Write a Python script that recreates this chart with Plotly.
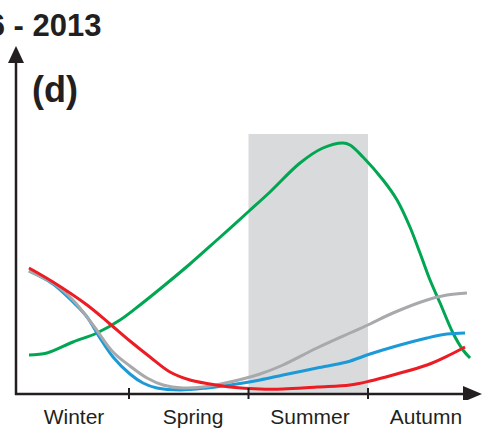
import plotly.graph_objects as go

# ---------------- data ----------------
seasons = ["Winter", "Spring", "Summer", "Autumn"]
season_label_pos = [0.54, 1.536, 2.515, 3.485]
season_bounds = [1, 2, 3]
shade_span = [2, 3]          # summer shading
shade_top = 259

green_x = [0.163, 0.314, 0.531, 0.732, 0.925, 1.092, 1.259, 1.510, 1.736, 1.996, 2.180, 2.431, 2.623,
           2.791, 2.849, 2.958, 3.126, 3.243, 3.351, 3.435, 3.519, 3.603, 3.711, 3.795, 3.854]
green_y = [38, 40, 51, 60, 73, 88, 104, 129, 153, 181, 201, 230, 245,
           250, 248, 236, 213, 193, 166, 140, 113, 90, 60, 43, 35]

red_x = [0.163, 0.364, 0.649, 0.841, 1.008, 1.176, 1.343, 1.510, 1.678, 1.845, 2.096, 2.289, 2.573,
         2.849, 3.017, 3.209, 3.494, 3.682, 3.812]
red_y = [125, 111, 88, 69, 52, 36, 21, 13, 9, 6, 4, 4, 6, 8, 12, 18, 28, 38, 46]

blue_x = [0.163, 0.364, 0.531, 0.649, 0.757, 0.866, 1.008, 1.117, 1.234, 1.427, 1.653, 1.845, 2.096,
          2.289, 2.573, 2.824, 3.017, 3.209, 3.494, 3.661, 3.812]
blue_y = [122, 109, 91, 76, 55, 36, 19, 10, 5, 3, 5, 8, 13, 18, 25, 31, 39, 46, 55, 59, 60]

gray_x = [0.163, 0.364, 0.531, 0.699, 0.866, 1.008, 1.151, 1.285, 1.452, 1.619, 1.845, 2.096, 2.289,
          2.573, 2.849, 3.017, 3.209, 3.494, 3.661, 3.828]
gray_y = [122, 110, 93, 68, 41, 27, 15, 8, 5, 6, 11, 19, 28, 45, 60, 69, 80, 93, 98, 100]

title_text = "2006 - 2013"
panel_text = "(d)"

# ---------------- styling / geometry helpers ----------------
W, H = 482, 430
BOTTOM = 30
PLOT_H = H - BOTTOM


def X(px):
    return (px - 9.5) / 119.5


def Y(py):
    return 393 - py


INK = "#231f20"
FONT = "Liberation Sans, Arial, sans-serif"

fig = go.Figure()

series = [
    (green_x, green_y, "#00a651"),
    (blue_x, blue_y, "#1b9ad7"),
    (gray_x, gray_y, "#a7a9ac"),
    (red_x, red_y, "#ed1c24"),
]
for xs, ys, col in series:
    fig.add_trace(go.Scatter(x=xs, y=ys, mode="lines",
                             line=dict(color=col, width=3, shape="spline", smoothing=1.0),
                             hoverinfo="skip", showlegend=False))

shapes = []
# summer shading
shapes.append(dict(type="rect", xref="x", yref="y", x0=shade_span[0], x1=shade_span[1],
                   y0=Y(394), y1=shade_top, fillcolor="#d9dadc", line=dict(width=0), layer="below"))
# axes
shapes.append(dict(type="line", xref="x", yref="y", x0=X(16), x1=X(16), y0=Y(395), y1=Y(58),
                   line=dict(color=INK, width=2.5)))
shapes.append(dict(type="line", xref="x", yref="y", x0=X(15), x1=X(468), y0=Y(394), y1=Y(394),
                   line=dict(color=INK, width=2.5)))
# arrowheads
shapes.append(dict(type="path", xref="x", yref="y",
                   path=f"M {X(16)},{Y(46)} L {X(8)},{Y(63)} L {X(24)},{Y(63)} Z",
                   fillcolor=INK, line=dict(width=0)))
shapes.append(dict(type="path", xref="x", yref="y",
                   path=f"M {X(482)},{Y(394)} L {X(463)},{Y(386)} L {X(463)},{Y(402)} Z",
                   fillcolor=INK, line=dict(width=0)))
# season boundary ticks
for b in season_bounds:
    shapes.append(dict(type="line", xref="x", yref="y", x0=b, x1=b, y0=Y(388), y1=Y(399),
                       line=dict(color=INK, width=2)))

annotations = [
    dict(text=f"<b>{title_text}</b>", xref="paper", yref="paper", x=103 / W, y=1 - 26 / PLOT_H,
         xanchor="right", yanchor="middle", showarrow=False,
         font=dict(family=FONT, size=31, color=INK)),
    dict(text=f"<b>{panel_text}</b>", xref="paper", yref="paper", x=30 / W, y=1 - 89 / PLOT_H,
         xanchor="left", yanchor="middle", showarrow=False,
         font=dict(family=FONT, size=36, color=INK)),
]

fig.update_layout(
    width=W, height=H,
    margin=dict(l=0, r=0, t=0, b=BOTTOM, pad=0),
    paper_bgcolor="white", plot_bgcolor="white",
    shapes=shapes, annotations=annotations,
    font=dict(family=FONT, color=INK),
    xaxis=dict(range=[X(0), X(482)], showgrid=False, zeroline=False, showline=False,
               ticks="", tickmode="array", tickvals=season_label_pos, ticktext=seasons,
               tickfont=dict(family=FONT, size=21, color=INK), ticklabelstandoff=2,
               fixedrange=True),
    yaxis=dict(range=[Y(PLOT_H), Y(0)], visible=False, fixedrange=True),
)

fig.write_html("out.html", config={"displayModeBar": False},
               post_script="document.body.style.margin='0';document.body.style.overflow='hidden';")
